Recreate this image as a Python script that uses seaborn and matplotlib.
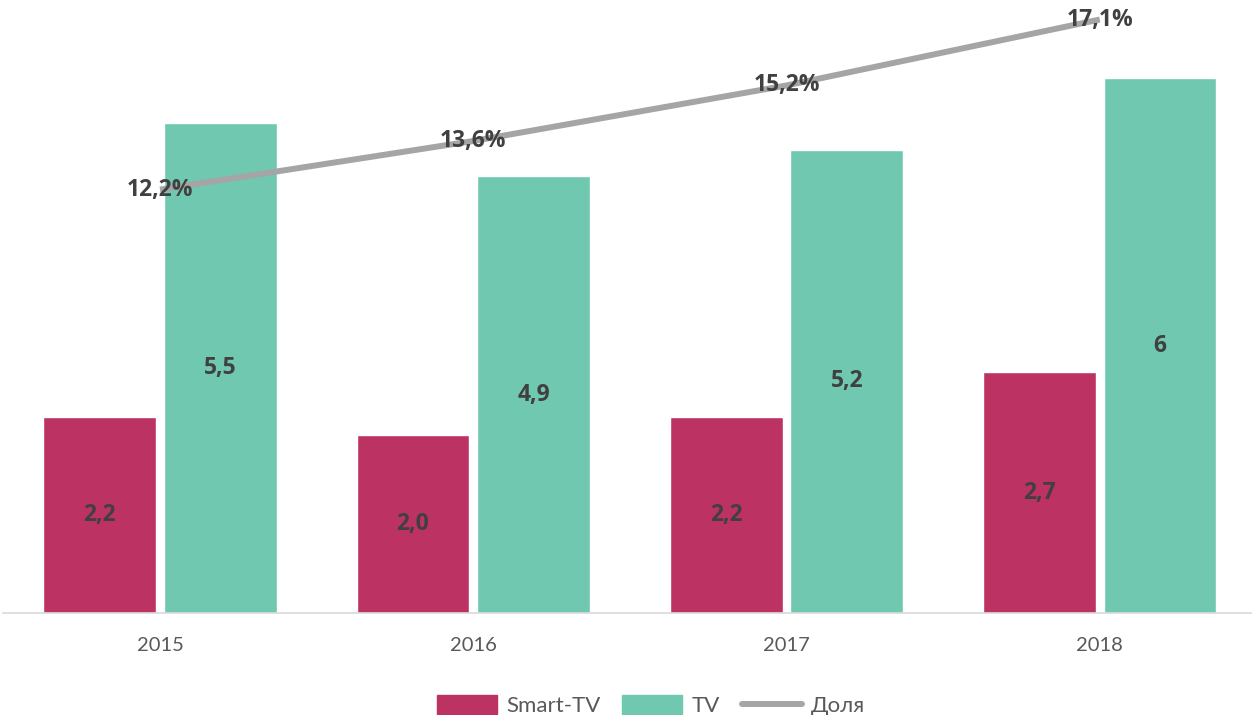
import pandas as pd
import seaborn as sns
import matplotlib.pyplot as plt
from matplotlib.patches import Patch
from matplotlib.lines import Line2D

# data
years = ['2015', '2016', '2017', '2018']
smart_tv = [2.2, 2.0, 2.2, 2.7]
tv = [5.5, 4.9, 5.2, 6.0]
share = [12.2, 13.6, 15.2, 17.1]
smart_labels = ['2,2', '2,0', '2,2', '2,7']
tv_labels = ['5,5', '4,9', '5,2', '6']
share_labels = ['12,2%', '13,6%', '15,2%', '17,1%']
series_names = ['Smart-TV', 'TV', 'Доля']

mypalette = ['#BC3262', '#70C8B0']
line_color = '#A5A5A5'
label_color = '#404040'
tick_color = '#595959'

sns.set_style('white')
plt.rcParams['font.family'] = ['Lato', 'DejaVu Sans']
bold_font = ['Open Sans', 'DejaVu Sans']

df = pd.DataFrame({
    'year': years * 2,
    'value': smart_tv + tv,
    'series': [series_names[0]] * 4 + [series_names[1]] * 4,
})
df_share = pd.DataFrame({'year': years, 'share': share})

fig = plt.figure(figsize=(12.52, 7.15), dpi=100)
ax = fig.add_axes([0.0027, 0.1427, 1.0008, 0.8630])

sns.barplot(data=df, x='year', y='value', hue='series', palette=mypalette,
            width=0.77, gap=0.066, saturation=1, legend=False, ax=ax)
ax.set_ylim(0, 6.925)
ax.set_xlim(-0.5, 3.5)

# value labels in middle of bars
for cont, labs in zip(ax.containers, [smart_labels, tv_labels]):
    for bar, lab in zip(cont, labs):
        ax.text(bar.get_x() + bar.get_width() / 2, bar.get_height() / 2, lab,
                ha='center', va='center', fontsize=16.5, fontweight='bold',
                color=label_color, family=bold_font)

ax2 = ax.twinx()
sns.lineplot(data=df_share, x='year', y='share', color=line_color,
             linewidth=4.3, ax=ax2, solid_capstyle='butt')
ax2.set_ylim(0, 17.78)
for i, (v, lab) in enumerate(zip(share, share_labels)):
    ax2.text(i, v, lab, ha='center', va='center', fontsize=16.5,
             fontweight='bold', color=label_color, family=bold_font)

for a in (ax, ax2):
    a.set_xlabel('')
    a.set_ylabel('')
    a.set_yticks([])
    for s in ['top', 'left', 'right']:
        a.spines[s].set_visible(False)
ax2.spines['bottom'].set_visible(False)
ax.spines['bottom'].set_color('#D9D9D9')
ax.spines['bottom'].set_linewidth(1.2)

# category separators as ticks
ax.set_xticks([0.5, 1.5, 2.5], minor=True)
ax.tick_params(axis='x', which='minor', length=10, color='#D9D9D9', width=1)
ax.tick_params(axis='x', which='major', length=0, pad=17,
               labelsize=14.5, labelcolor=tick_color)

handles = [Patch(color=mypalette[0]), Patch(color=mypalette[1]),
           Line2D([0], [0], color=line_color, linewidth=4.3)]
fig.legend(handles, series_names, loc='center', bbox_to_anchor=(0.52, 0.013),
           ncol=3, frameon=False, fontsize=16, labelcolor=tick_color,
           handlelength=2.7, handleheight=0.9, handletextpad=0.4,
           columnspacing=1.0)

fig.savefig('out.png', dpi=100)
